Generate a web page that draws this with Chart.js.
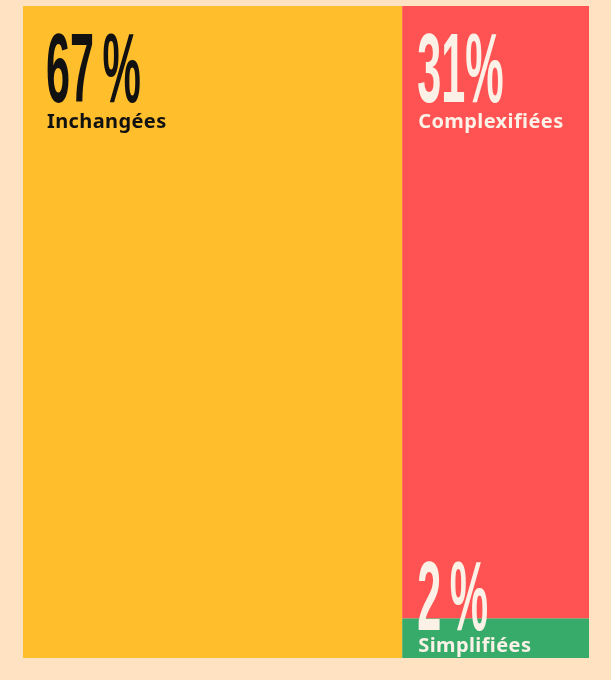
<!DOCTYPE html>
<html lang="fr">
<head>
<meta charset="utf-8">
<title>Démarches</title>
<script src="https://cdn.jsdelivr.net/npm/chart.js@4.4.0/dist/chart.umd.min.js"></script>
<style>
  html, body { margin: 0; padding: 0; background: #FFE2C2; }
  #wrap { width: 611px; height: 680px; }
</style>
</head>
<body>
<div id="wrap"><canvas id="parts" width="611" height="680"></canvas></div>
<script>
// Parts des démarches (en %)
const categories = ['Inchangées', 'Complexifiées', 'Simplifiées'];
const shares = [67, 31, 2];
const boxColors = ['#FFBE2B', '#FF5252', '#37AB6A'];
const textColors = ['#111111', '#FCF1E6', '#FCF1E6'];

// Découpage : la première part prend toute la hauteur à gauche,
// les autres s'empilent dans la colonne de droite (la plus petite en bas)
function buildBoxes() {
    const total = shares.reduce((a, b) => a + b, 0);
    const first = shares[0] / total * 100;
    const boxes = [{ x0: 0, x1: first, y0: 0, y1: 100 }];
    const rest = shares.slice(1);
    const restSum = rest.reduce((a, b) => a + b, 0);
    let y = 0;
    const stacked = [];
    for (let i = rest.length - 1; i >= 0; i--) {
        const h = rest[i] / restSum * 100;
        stacked[i] = { x0: first, x1: 100, y0: y, y1: y + h };
        y += h;
    }
    return boxes.concat(stacked);
}
const boxes = buildBoxes();

// espace fine avant le %, sauf après un 1 qui a déjà de l'approche
function formatShare(v) {
    const s = String(v);
    return s + (s.endsWith('1') ? '' : '\u2009') + '%';
}

function drawCondensed(ctx, text, x, y, size, squeeze, color) {
    ctx.save();
    ctx.translate(x, y);
    ctx.scale(squeeze, 1);
    ctx.font = `bold ${size}px "Liberation Sans"`;
    ctx.fillStyle = color;
    ctx.textBaseline = 'alphabetic';
    ctx.fillText(text, 0, 0);
    ctx.restore();
}

const treemapBoxes = {
    id: 'treemapBoxes',
    beforeDatasetsDraw(chart) {
        const { ctx, scales: { x, y } } = chart;
        boxes.forEach((b, i) => {
            const left = x.getPixelForValue(b.x0);
            const right = x.getPixelForValue(b.x1);
            const top = y.getPixelForValue(b.y1);
            const bottom = y.getPixelForValue(b.y0);
            ctx.fillStyle = boxColors[i];
            ctx.fillRect(left, top, right - left, bottom - top);
        });
    },
    afterDatasetsDraw(chart) {
        const { ctx, scales: { x, y } } = chart;
        boxes.forEach((b, i) => {
            const left = x.getPixelForValue(b.x0);
            const right = x.getPixelForValue(b.x1);
            const top = y.getPixelForValue(b.y1);
            const bottom = y.getPixelForValue(b.y0);
            const pad = (right - left) > 300 ? 24 : 16;
            const tx = left + pad;
            let numBase, labelBase;
            if (bottom - top > 150) {
                numBase = top + 96;
                labelBase = top + 122;
            } else {
                labelBase = bottom - 6;
                numBase = labelBase - 22;
            }
            drawCondensed(ctx, formatShare(shares[i]), tx - 1, numBase, 98, 0.44, textColors[i]);
            ctx.save();
            ctx.font = 'bold 20px "Noto Sans"';
            ctx.letterSpacing = '0.4px';
            ctx.fillStyle = textColors[i];
            ctx.textBaseline = 'alphabetic';
            ctx.fillText(categories[i], tx, labelBase);
            ctx.restore();
        });
    }
};

new Chart(document.getElementById('parts'), {
    type: 'scatter',
    data: {
        datasets: [{
            label: 'Démarches',
            data: boxes.map(b => ({ x: (b.x0 + b.x1) / 2, y: (b.y0 + b.y1) / 2 })),
            pointRadius: 0
        }]
    },
    options: {
        responsive: false,
        animation: false,
        layout: { padding: { left: 23, right: 22, top: 6, bottom: 22 } },
        plugins: { legend: { display: false }, tooltip: { enabled: false } },
        scales: {
            x: { type: 'linear', min: 0, max: 100, display: false },
            y: { type: 'linear', min: 0, max: 100, display: false }
        }
    },
    plugins: [treemapBoxes]
});
</script>
</body>
</html>
